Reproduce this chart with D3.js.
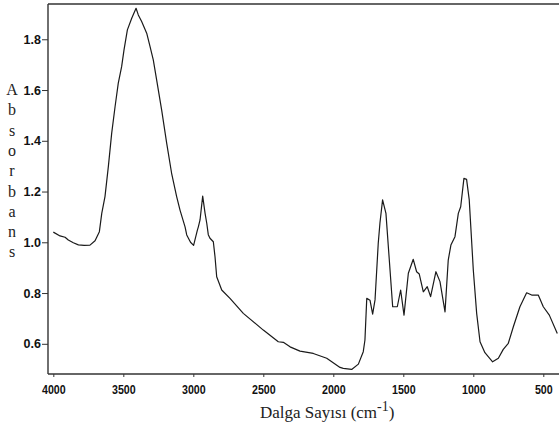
<!DOCTYPE html>
<html><head><meta charset="utf-8">
<script src="https://cdn.jsdelivr.net/npm/d3@7"></script>
<style>
html,body{margin:0;padding:0;background:#fff;}
svg{display:block;}
</style></head>
<body>
<svg id="chart" width="559" height="428"></svg>
<script>
// Wavenumbers (cm^-1), descending
const wavenumbers = [4000,3952,3916,3893,3857,3821,3780,3738,3702,3671,3654,3631,3607,3583,3559,3536,3512,3495,3471,3440,3409,3393,3369,3333,3309,3286,3262,3226,3190,3155,3119,3095,3059,3047,3020,2998,2971,2964,2952,2933,2916,2904,2893,2881,2857,2845,2833,2797,2738,2643,2500,2393,2357,2309,2238,2143,2047,1952,1929,1869,1821,1786,1774,1761,1738,1719,1702,1679,1667,1648,1624,1600,1576,1543,1519,1495,1464,1429,1405,1386,1357,1329,1305,1267,1238,1202,1179,1160,1131,1107,1090,1067,1048,1029,1000,976,952,917,862,821,786,750,714,667,619,583,536,500,457,400];
// Absorbance values
const absorbance = [1.040,1.025,1.020,1.009,0.998,0.990,0.988,0.989,1.006,1.042,1.114,1.180,1.298,1.430,1.534,1.627,1.692,1.758,1.837,1.883,1.922,1.896,1.870,1.824,1.771,1.719,1.640,1.521,1.390,1.272,1.180,1.127,1.061,1.029,1.000,0.988,1.048,1.061,1.088,1.182,1.114,1.075,1.030,1.016,1.002,0.943,0.864,0.812,0.779,0.720,0.654,0.608,0.606,0.588,0.571,0.562,0.543,0.507,0.503,0.499,0.520,0.569,0.615,0.779,0.772,0.717,0.773,0.996,1.075,1.167,1.114,0.930,0.746,0.746,0.812,0.713,0.878,0.933,0.884,0.875,0.805,0.825,0.786,0.884,0.845,0.726,0.930,0.989,1.022,1.114,1.140,1.252,1.248,1.167,0.891,0.720,0.608,0.565,0.529,0.543,0.578,0.602,0.667,0.746,0.801,0.792,0.792,0.746,0.713,0.641];
const xTicks = [4000,3500,3000,2500,2000,1500,1000,500];
const yTicks = [0.6,0.8,1.0,1.2,1.4,1.6,1.8];
const yLabelLetters = ["A","b","s","o","r","b","a","n","s"];
const xTitle = "Dalga Sayısı (cm";
const xTitleSup = "-1";

const svg = d3.select("#chart");
const mLeft = 48, mRight = 559, mTop = 4, mBottom = 374;
const x = d3.scaleLinear().domain([4038, 395]).range([mLeft, 558]);
const y = d3.scaleLinear().domain([0.481, 1.939]).range([mBottom, mTop]);

const data = wavenumbers.map((w,i)=>({w, a: absorbance[i]}));

// curve
svg.append("path").datum(data)
  .attr("fill","none").attr("stroke","#1a1a1a").attr("stroke-width",1.2)
  .attr("stroke-linejoin","round")
  .attr("d", d3.line().x(d=>x(d.w)).y(d=>y(d.a)));

// top frame line
svg.append("line").attr("x1",mLeft).attr("x2",mRight).attr("y1",mTop).attr("y2",mTop)
  .attr("stroke","#333").attr("stroke-width",1.6);

// y axis
const yAxis = svg.append("g").attr("transform",`translate(${mLeft},0)`)
  .call(d3.axisLeft(y).tickValues(yTicks).tickFormat(d3.format(".1f")).tickSize(6).tickPadding(1));
yAxis.select(".domain").attr("d",`M0,${mTop}V${mBottom}`).attr("stroke","#333").attr("stroke-width",1.4);
yAxis.selectAll(".tick line").attr("stroke","#333");
yAxis.selectAll("text").attr("font-family","'Liberation Sans', Arial, sans-serif")
  .attr("font-weight","bold").attr("font-size","12.5px").attr("fill","#111");

// x axis
const xAxis = svg.append("g").attr("transform",`translate(0,${mBottom})`)
  .call(d3.axisBottom(x).tickValues(xTicks).tickFormat(d3.format("d")).tickSize(3).tickPadding(8));
xAxis.select(".domain").attr("d",`M${mLeft},0H${mRight}`).attr("stroke","#333").attr("stroke-width",1.4);
xAxis.selectAll(".tick line").attr("stroke","#333");
xAxis.selectAll("text").attr("font-family","'Liberation Sans', Arial, sans-serif")
  .attr("font-weight","bold").attr("font-size","13px").attr("fill","#111")
  .attr("transform","scale(0.82,1)");

// x title
const xt = svg.append("text").attr("x",260).attr("y",418)
  .attr("font-family","'Liberation Serif','Times New Roman',serif")
  .attr("font-size","17px").attr("fill","#222");
xt.append("tspan").text(xTitle);
xt.append("tspan").attr("font-size","14px").attr("dy",-7).text(xTitleSup);
xt.append("tspan").attr("dy",7).text(")");

// y title, vertical letters
svg.append("g").selectAll("text").data(yLabelLetters).join("text")
  .attr("x",12).attr("y",(d,i)=>95 + i*20.3)
  .attr("text-anchor","middle")
  .attr("font-family","'Liberation Serif','Times New Roman',serif")
  .attr("font-size","16px").attr("fill","#222")
  .text(d=>d);
</script>
</body></html>
